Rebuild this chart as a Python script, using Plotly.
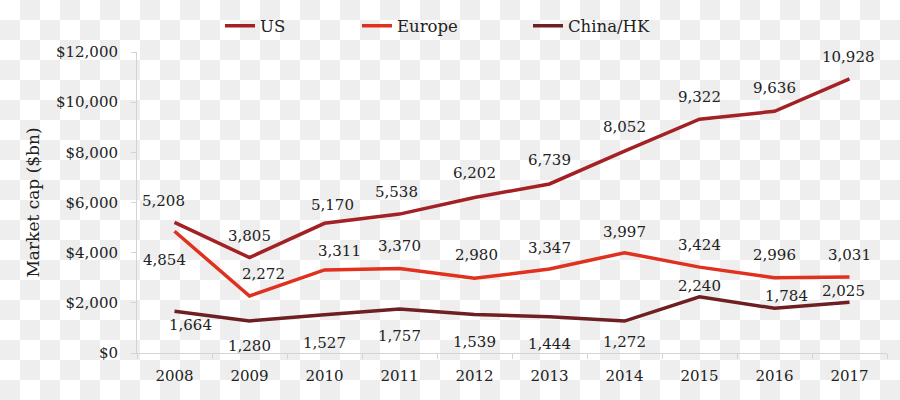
import base64
import plotly.graph_objects as go

years = ["2008", "2009", "2010", "2011", "2012", "2013", "2014", "2015", "2016", "2017"]
us = [5208, 3805, 5170, 5538, 6202, 6739, 8052, 9322, 9636, 10928]
europe = [4854, 2272, 3311, 3370, 2980, 3347, 3997, 3424, 2996, 3031]
china = [1664, 1280, 1527, 1757, 1539, 1444, 1272, 2240, 1784, 2025]

# label offsets in pixels (dx, dy up)
us_dx = [-11, 0, 8, -3, 0, 0, 0, 0, 0, -1]
us_dy = [21, 22, 18, 22, 24, 24, 24, 22, 23, 22]
eu_dx = [-10, 14, 15, 0, 2, 0, 0, 0, 0, 0]
eu_dy = [-29, 22, 19, 22, 23, 21, 21, 22, 23, 22]
cn_dx = [16, 0, 0, 0, 0, 0, 0, 0, 12, -6]
cn_dy = [-14, -25, -28, -27, -28, -27, -21, 11, 12, 11]

FONT = "Georgia, 'DejaVu Serif', serif"
W, H = 900, 400
ML, MR, MT, MB = 137, 13, 52, 47
PW, PH = W - ML - MR, H - MT - MB

fig = go.Figure()
series = [
    ("US", us, "#a32024", "legend", us_dx, us_dy),
    ("Europe", europe, "#e0301e", "legend2", eu_dx, eu_dy),
    ("China/HK", china, "#6d1f22", "legend3", cn_dx, cn_dy),
]
annotations = []
for name, vals, color, leg, dxs, dys in series:
    fig.add_trace(go.Scatter(x=years, y=vals, name=name, mode="lines", showlegend=True,
                             line=dict(color=color, width=3.5), legend=leg))
    for i, (v, dx, dy) in enumerate(zip(vals, dxs, dys)):
        annotations.append(dict(x=i, y=v, xref="x", yref="y", text=f"{v:,}",
                                showarrow=False, xshift=dx, yshift=dy,
                                font=dict(family=FONT, size=15, color="#222")))

svg = ("<svg xmlns='http://www.w3.org/2000/svg' width='900' height='400'>"
       "<defs><pattern id='p' width='40' height='40' patternUnits='userSpaceOnUse'>"
       "<rect width='40' height='40' fill='#ffffff'/>"
       "<rect x='20' y='0' width='20' height='20' fill='#eeeeee'/>"
       "<rect x='0' y='20' width='20' height='20' fill='#eeeeee'/>"
       "</pattern></defs><rect width='900' height='400' fill='url(#p)'/></svg>")
src = "data:image/svg+xml;base64," + base64.b64encode(svg.encode()).decode()

def legend_at(px_left):
    return dict(orientation="h", x=(px_left - ML) / PW, xanchor="left",
                y=1 + (MT - 26) / PH, yanchor="middle", bgcolor="rgba(0,0,0,0)",
                font=dict(family=FONT, size=16.5, color="#222"))

fig.update_layout(
    width=W, height=H,
    margin=dict(l=ML, r=MR, t=MT, b=MB, autoexpand=False),
    paper_bgcolor="white", plot_bgcolor="rgba(0,0,0,0)",
    font=dict(family=FONT, size=15, color="#222"),
    showlegend=True,
    legend=legend_at(220),
    legend2=legend_at(357),
    legend3=legend_at(528),
    annotations=annotations,
    images=[dict(source=src, xref="paper", yref="paper", x=-ML / PW, y=1 + MT / PH,
                 sizex=W / PW, sizey=H / PH, xanchor="left", yanchor="top",
                 sizing="stretch", layer="below")],
    xaxis=dict(type="category", range=[-0.5, 9.5], showgrid=False, showline=True,
               linecolor="#d4d4d4", linewidth=1, ticks="outside", tickson="boundaries",
               ticklen=5, tickcolor="#d4d4d4", ticklabelstandoff=9,
               tickfont=dict(family=FONT, size=15, color="#222")),
    yaxis=dict(range=[0, 12000], dtick=2000, tickprefix="$", tickformat=",d",
               showgrid=False, zeroline=False, showline=True, linecolor="#d4d4d4",
               linewidth=1, ticks="outside", ticklen=5, tickcolor="#d4d4d4",
               ticklabelstandoff=10,
               title=dict(text="Market cap ($bn)", standoff=12,
                          font=dict(family=FONT, size=17, color="#222")),
               tickfont=dict(family=FONT, size=15, color="#222")),
)

fig.write_html("out.html")
